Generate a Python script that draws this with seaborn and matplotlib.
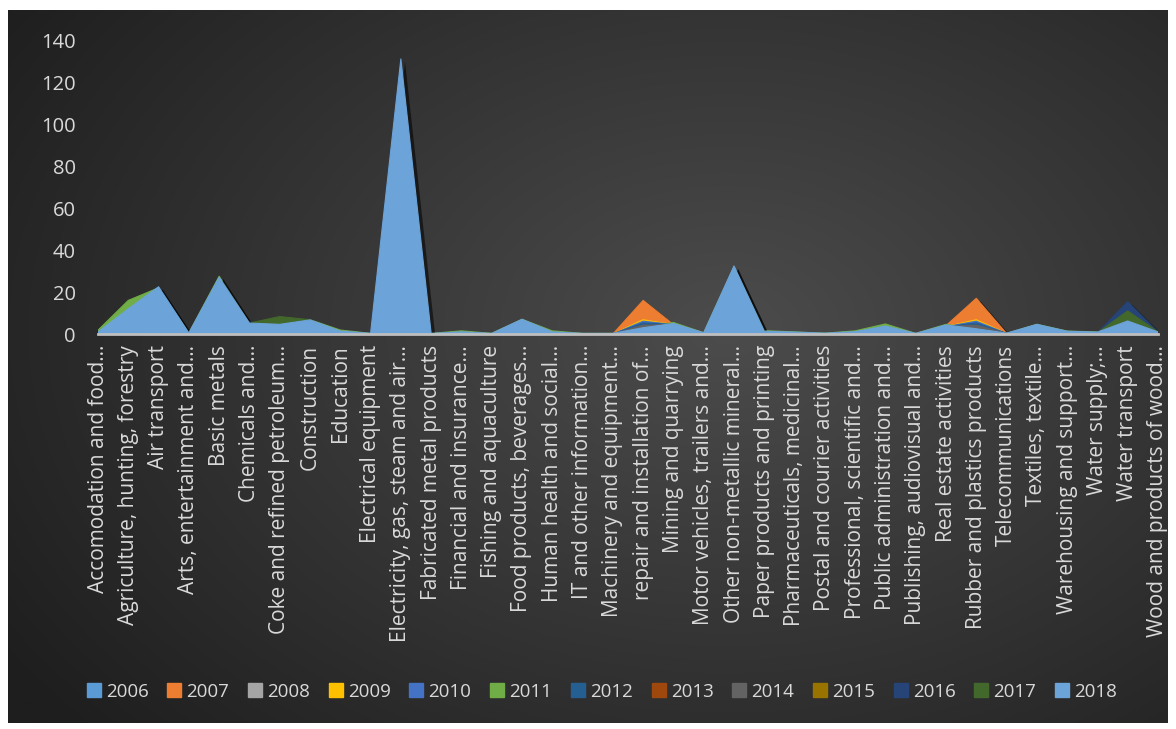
import numpy as np
import pandas as pd
import matplotlib
matplotlib.use("Agg")
import matplotlib.pyplot as plt
import matplotlib.patheffects as pe
from matplotlib.lines import Line2D
import seaborn as sns

# Sector categories along the x axis
sectors = [
    "Accomodation and food…", "Agriculture, hunting, forestry", "Air transport",
    "Arts, entertainment and…", "Basic metals", "Chemicals and…",
    "Coke and refined petroleum…", "Construction", "Education",
    "Electrical equipment", "Electricity, gas, steam and air…",
    "Fabricated metal products", "Financial and insurance…",
    "Fishing and aquaculture", "Food products, beverages…",
    "Human health and social…", "IT and other information…",
    "Machinery and equipment…", "repair and installation of…",
    "Mining and quarrying", "Motor vehicles, trailers and…",
    "Other non-metallic mineral…", "Paper products and printing",
    "Pharmaceuticals, medicinal…", "Postal and courier activities",
    "Professional, scientific and…", "Public administration and…",
    "Publishing, audiovisual and…", "Real estate activities",
    "Rubber and plastics products", "Telecommunications", "Textiles, textile…",
    "Warehousing and support…", "Water supply;…", "Water transport",
    "Wood and products of wood…",
]

years = ["2006", "2007", "2008", "2009", "2010", "2011", "2012",
         "2013", "2014", "2015", "2016", "2017", "2018"]

v2006 = [0, 0, 0, 0, 0, 0, 0, 0, 0, 0, 0, 0, 0, 0, 0, 0, 0, 0,
         0, 0, 0, 0, 0, 0, 0, 0, 0, 0, 0, 0, 0, 0, 0, 0, 0, 0]
v2007 = [0, 0, 0, 0, 0, 0, 0, 0, 0, 0, 0, 0, 0, 0, 0, 0, 0, 0,
         16, 4.5, 0, 0, 0, 0, 0, 0, 0, 0, 4, 17, 0.3, 0, 0, 0, 0, 0]
v2008 = [0, 0, 0, 0, 0, 0, 0, 0, 0, 0, 0, 0, 0, 0, 0, 0, 0, 0,
         0, 0, 0, 0, 0, 0, 0, 0, 0, 0, 0, 0, 0, 0, 0, 0, 0, 0]
v2009 = [0, 0, 0, 0, 0, 0, 0, 0, 0, 0, 0, 0, 0, 0, 0, 0, 0, 0,
         6.8, 4.5, 0, 0, 0, 0, 0, 0, 0, 0, 3.5, 6.8, 0.3, 0, 0, 0, 0, 0]
v2010 = [0, 0, 0, 0, 0, 0, 0, 0, 0, 0, 0, 0, 0, 0, 0, 0, 0, 0,
         6.1, 4.5, 0, 0, 0, 0, 0, 0, 0, 0, 3.5, 6.1, 0.3, 0, 0, 0, 0, 0]
v2011 = [1.8, 16, 22, 0.5, 27.5, 5.2, 4.8, 6.8, 1.9, 0.3, 0, 0.3, 1.5, 0.3, 7, 1.5, 0.3, 0.3,
         3, 5.5, 0.6, 32, 1.6, 1, 0.4, 1.5, 4.8, 0.3, 4.6, 2.5, 0.3, 4.6, 1.4, 1, 5, 1]
v2012 = [0, 0, 0, 0, 0, 5.9, 0, 0, 0, 0, 0, 0, 0, 0, 0, 0, 0, 0,
         5.3, 4.5, 0, 0, 0, 0, 0, 0, 0, 0, 3.5, 5.3, 0.3, 0, 0, 0, 0, 0]
v2013 = [0, 0, 0, 0, 0, 0, 0, 0, 0, 0, 0, 0, 0, 0, 0, 0, 0, 0,
         0, 0, 0, 0, 0, 0, 0, 0, 0, 0, 0, 0, 0, 0, 0, 0, 0, 0]
v2014 = [0, 0, 0, 0, 0, 0, 0, 0, 0, 0, 0, 0, 0, 0, 0, 0, 0, 0,
         4.2, 4.5, 0, 0, 0, 0, 0, 0, 0, 0, 3.5, 4.2, 0.3, 0, 0, 0, 0, 0]
v2015 = [0, 0, 0, 0, 0, 0, 0, 0, 0, 0, 0, 0, 0, 0, 0, 0, 0, 0,
         0, 0, 0, 0, 0, 0, 0, 0, 0, 0, 0, 0, 0, 0, 0, 0, 0, 0]
v2016 = [0, 0, 0, 0, 0, 0, 0, 0, 0, 0, 0, 0, 0, 0, 0, 0, 0, 0,
         0, 0, 0, 0, 0, 0, 0, 0, 0, 0, 0, 0, 0, 0, 0, 0.6, 15.4, 1]
v2017 = [0, 0, 0, 0, 0, 5.2, 8.3, 6.8, 0, 0, 0, 0, 0, 0, 0, 0, 0, 0,
         0, 0, 0, 0, 0, 0, 0, 0, 0, 0, 0, 0, 0, 0, 0, 0.6, 11, 1]
v2018 = [1, 12, 22.5, 0.5, 27, 5.2, 4.6, 6.7, 1.4, 0.3, 131, 0.3, 1, 0.3, 7, 1, 0.3, 0.3,
         3, 5, 0.6, 32.4, 1.3, 0.9, 0.4, 1.1, 3.8, 0.3, 4.3, 2.5, 0.4, 4.6, 1.3, 0.9, 6.2, 1]

series = [v2006, v2007, v2008, v2009, v2010, v2011, v2012,
          v2013, v2014, v2015, v2016, v2017, v2018]

palette = ["#5B9BD5", "#ED7D31", "#A5A5A5", "#FFC000", "#4472C4", "#70AD47",
           "#255E91", "#9E480E", "#636363", "#997300", "#264478", "#43682B",
           "#6CA3D8"]

df = pd.DataFrame({"sector": np.tile(np.arange(len(sectors)), len(years)),
                   "year": np.repeat(years, len(sectors)),
                   "value": np.concatenate(series)})

sns.set_style("dark")
plt.rcParams["font.family"] = ["Open Sans", "DejaVu Sans"]
text_col = "#D9D9D9"

W, H = 1176, 729
fig = plt.figure(figsize=(W / 100, H / 100), dpi=100, facecolor="white")

# dark chart area with a soft radial gradient
bg = fig.add_axes([8 / W, 6 / H, 1160 / W, 713 / H])
gx, gy = np.meshgrid(np.linspace(0, 1, 600), np.linspace(0, 1, 400))
r = np.sqrt(((gx - 0.62) / 0.75) ** 2 + ((gy - 0.55) / 0.85) ** 2)
shade = np.clip(r, 0, 1)
c0, c1 = np.array([0x4C, 0x4C, 0x4C]) / 255, np.array([0x1E, 0x1E, 0x1E]) / 255
img = c0[None, None, :] * (1 - shade[..., None]) + c1[None, None, :] * shade[..., None]
bg.imshow(img, aspect="auto", extent=(0, 1, 0, 1), origin="lower")
bg.set_axis_off()

ax = fig.add_axes([98 / W, 1 - 334 / H, (1158 - 98) / W, (334 - 40) / H])
ax.set_facecolor("none")

shadow = [pe.SimplePatchShadow(offset=(3, -2), shadow_rgbFace="black", alpha=0.55), pe.Normal()]
for i, (yr, col) in enumerate(zip(years, palette)):
    sub = df[df["year"] == yr]
    ax.fill_between(sub["sector"], 0, sub["value"], color=col, lw=0,
                    zorder=2 + i, path_effects=shadow)
    sns.lineplot(data=sub, x="sector", y="value", color=col, lw=0.8,
                 ax=ax, zorder=2 + i, legend=False)

ax.set_xlim(0, len(sectors) - 1)
ax.set_ylim(0, 140)
ax.set_yticks(np.arange(0, 141, 20))
ax.set_xticks(np.arange(len(sectors)))
ax.set_xticklabels(sectors, rotation=90, fontsize=15, color=text_col)
ax.set_xlabel("")
ax.set_ylabel("")
ax.tick_params(axis="y", length=0, pad=16, labelsize=14.5, labelcolor=text_col)
ax.tick_params(axis="x", length=6, width=1.5, color="#BFBFBF", direction="out", pad=2)
ax.grid(False)
for s in ["left", "right", "top"]:
    ax.spines[s].set_visible(False)
ax.spines["bottom"].set_color("#BFBFBF")
ax.spines["bottom"].set_linewidth(2)
ax.spines["bottom"].set_zorder(30)

handles = [Line2D([], [], marker="s", ls="", markersize=10, markerfacecolor=c,
                  markeredgecolor=c) for c in palette]
leg = fig.legend(handles, years, loc="center", bbox_to_anchor=(602 / W, 1 - 692 / H),
                 ncol=len(years), frameon=False, fontsize=13.5, handlelength=0.7,
                 handletextpad=0.3, columnspacing=1.02)
for t in leg.get_texts():
    t.set_color(text_col)

fig.savefig("out.png", dpi=100, facecolor="white")
